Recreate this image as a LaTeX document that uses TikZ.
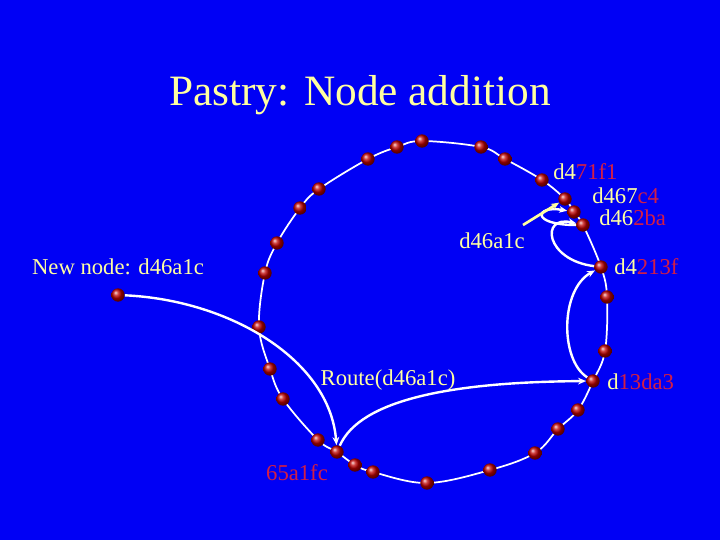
\documentclass[tikz,border=0pt]{standalone}
\usepackage{fontspec}
\setmainfont{Liberation Serif}
\usetikzlibrary{arrows.meta}
\definecolor{bg}{RGB}{0,0,245}
\definecolor{ylw}{RGB}{255,255,160}
\definecolor{rd}{RGB}{210,30,70}
\tikzset{
 dot/.style={circle,inner sep=0pt,minimum size=10pt,ball color=red!75!black,draw=none},
 lbl/.style={text=ylw,font=\fontsize{17}{19}\selectfont,inner sep=0pt},
 link/.style={white,line width=1.8pt,-{Stealth[length=6pt,width=5pt]}}
}
\begin{document}
\begin{tikzpicture}[x=0.75pt,y=-0.75pt]
\fill[bg] (0,0) rectangle (720,540);
\useasboundingbox (0,0) rectangle (720,540);
\node[text=ylw,font=\fontsize{32.5}{36}\selectfont] (title) at (360,95) {Pastry: Node addition};
\draw[white,line width=1.3pt] plot[smooth cycle,tension=0.6] coordinates {
(422,141)(481,147)(505,159)(542,180)(565,199)(574,212)(583,225)(601,267)(607,297)(605,351)(593,381)
(578,410)(558,429)(535,453)(490,470)(427,483)(373,472)(355,465)(337,452)(318,440)(283,399)(270,369)
(259,327)(265,273)(277,243)(300,208)(319,189)(368,159)(397,147)};
\foreach \p [count=\i] in {(422,141),(481,147),(505,159),(542,180),(565,199),(574,212),(583,225),(601,267),(607,297),(605,351),(593,381),
(578,410),(558,429),(535,453),(490,470),(427,483),(373,472),(355,465),(337,452),(318,440),(283,399),(270,369),
(259,327),(265,273),(277,243),(300,208),(319,189),(368,159),(397,147)}
  \node[dot] (r\i) at \p {};
\node[dot] (new) at (118,295) {};
% labels
\node[lbl,anchor=west] (l1) at (553,172) {d4\textcolor{rd}{71f1}};
\node[lbl,anchor=west] (l2) at (592,196) {d467\textcolor{rd}{c4}};
\node[lbl,anchor=west] (l3) at (599,218) {d46\textcolor{rd}{2ba}};
\node[lbl,anchor=west] (l4) at (614,267) {d4\textcolor{rd}{213f}};
\node[lbl,anchor=west] (l5) at (607,382) {d\textcolor{rd}{13da3}};
\node[lbl] (lq) at (492,241) {d46a1c};
\node[lbl] (lnew) at (118,267) {New node: d46a1c};
\node[lbl] (lroute) at (388,380) {Route(d46a1c)};
\node[lbl,text=rd] (l65) at (297,473) {65a1fc};
% routing
\draw[link] (new) .. controls (230,300) and (330,360) .. (r19);
\draw[link] (r19) .. controls (360,400) and (450,382) .. (r11);
\draw[link] (r11) .. controls (560,360) and (560,290) .. (r8);
\draw[link] (r8) .. controls (545,260) and (540,215) .. (r7);
\draw[link] (r7) .. controls (530,225) and (535,205) .. (r6);
\draw[ylw,line width=2pt,-{Stealth[length=6pt,width=5pt]}] (523,225) -- (r5);
\end{tikzpicture}
\end{document}
